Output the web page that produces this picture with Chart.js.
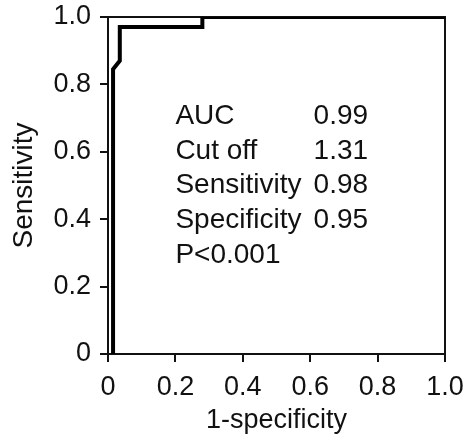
<!DOCTYPE html>
<html>
<head>
<meta charset="utf-8">
<script src="https://cdn.jsdelivr.net/npm/chart.js@4/dist/chart.umd.min.js"></script>
<style>
  html, body { margin: 0; padding: 0; background: #fff; }
  #wrap { width: 467px; height: 441px; position: relative; }
</style>
</head>
<body>
<div id="wrap"><canvas id="myChart"></canvas></div>
<script>
// ROC curve points (1-specificity, sensitivity)
var fpr = [0.015, 0.015, 0.035, 0.035, 0.28, 0.28, 1.0];
var tpr = [0, 0.845, 0.87, 0.97, 0.97, 1.0, 1.0];

var tickValues = [0, 0.2, 0.4, 0.6, 0.8, 1.0];
var tickLabels = ['0', '0.2', '0.4', '0.6', '0.8', '1.0'];

var statLabels = ['AUC', 'Cut off', 'Sensitivity', 'Specificity', 'P<0.001'];
var statValues = ['0.99', '1.31', '0.98', '0.95', ''];

var FONT = '"Liberation Sans", Arial, sans-serif';
var INK = '#111';

function setTicks(scale) {
    scale.ticks = tickValues.map(function(v) { return { value: v }; });
}

function tickLabel(value) {
    var i = tickValues.indexOf(value);
    return i >= 0 ? tickLabels[i] : '';
}

var statsBox = {
    id: 'statsBox',
    afterDatasetsDraw: function(chart) {
        var ctx = chart.ctx;
        var x = chart.scales.x, y = chart.scales.y;
        var left = x.getPixelForValue(0.2);
        var valLeft = x.getPixelForValue(0.61);
        var top = y.getPixelForValue(0.705);
        var step = 34.6;
        ctx.save();
        ctx.fillStyle = INK;
        ctx.font = '28px ' + FONT;
        ctx.textBaseline = 'middle';
        ctx.textAlign = 'left';
        statLabels.forEach(function(label, i) {
            ctx.fillText(label, left, top + i * step);
            if (statValues[i]) ctx.fillText(statValues[i], valLeft, top + i * step);
        });
        ctx.restore();
    }
};

var points = fpr.map(function(v, i) { return { x: v, y: tpr[i] }; });

new Chart(document.getElementById('myChart'), {
    type: 'scatter',
    data: {
        datasets: [{
            data: points,
            showLine: true,
            borderColor: '#000',
            borderWidth: 4,
            pointRadius: 0,
            tension: 0,
            clip: 0
        }]
    },
    options: {
        responsive: true,
        maintainAspectRatio: false,
        animation: false,
        layout: { padding: 0 },
        plugins: { legend: { display: false }, tooltip: { enabled: false } },
        scales: {
            x: {
                type: 'linear', min: 0, max: 1,
                afterBuildTicks: setTicks,
                afterFit: function(s) {
                    s.height = 87;
                    s.paddingLeft = 0;
                    s.paddingRight = 0;
                },
                border: { display: true, color: INK, width: 2 },
                grid: { drawOnChartArea: false, drawTicks: true, tickLength: 8, color: INK, lineWidth: 2 },
                ticks: { callback: tickLabel, color: INK, font: { family: FONT, size: 27 }, padding: 9, maxRotation: 0 },
                title: { display: true, text: '1-specificity', color: INK, font: { family: FONT, size: 27 }, padding: { top: 0, bottom: 4 } }
            },
            y: {
                type: 'linear', min: 0, max: 1,
                afterBuildTicks: setTicks,
                afterFit: function(s) {
                    s.width = 108;
                    s.paddingTop = 0;
                    s.paddingBottom = 0;
                },
                border: { display: true, color: INK, width: 2 },
                grid: { drawOnChartArea: false, drawTicks: true, tickLength: 8, color: INK, lineWidth: 2 },
                ticks: { callback: tickLabel, color: INK, font: { family: FONT, size: 27 }, padding: 9 },
                title: { display: true, text: 'Sensitivity', color: INK, font: { family: FONT, size: 28 }, padding: { top: 7, bottom: 0 } }
            },
            x2: {
                type: 'linear', position: 'top', min: 0, max: 1,
                afterFit: function(s) { s.height = 17; },
                border: { display: true, color: INK, width: 2 },
                grid: { display: false, drawTicks: false },
                ticks: { display: false }
            },
            y2: {
                type: 'linear', position: 'right', min: 0, max: 1,
                afterFit: function(s) { s.width = 22; },
                border: { display: true, color: INK, width: 2 },
                grid: { display: false, drawTicks: false },
                ticks: { display: false }
            }
        }
    },
    plugins: [statsBox]
});
</script>
</body>
</html>
